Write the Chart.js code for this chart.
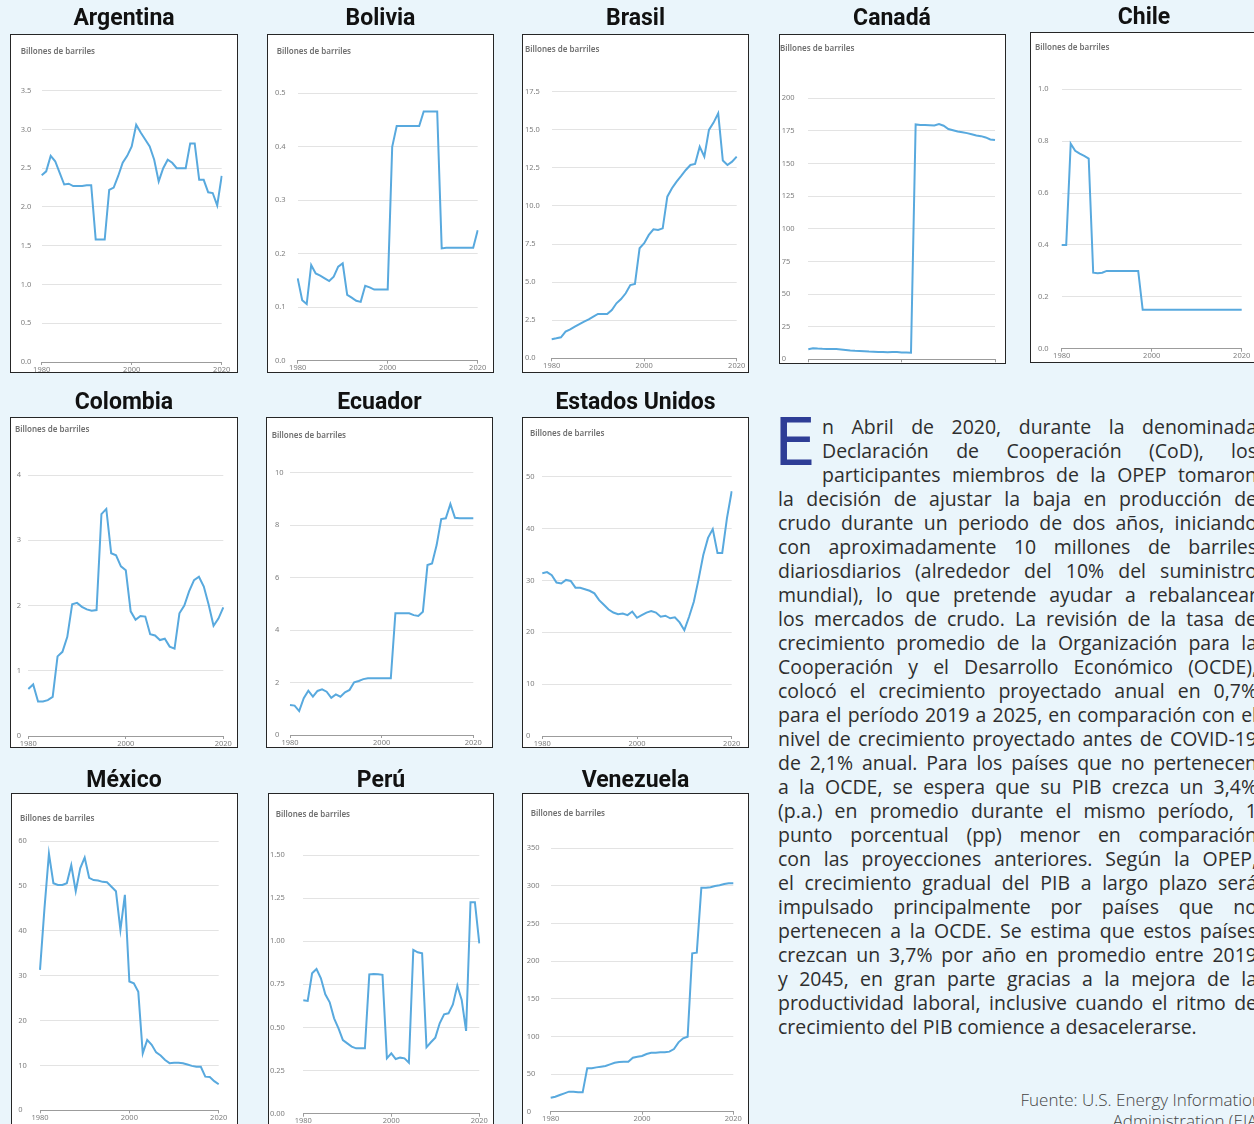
<!DOCTYPE html>
<html><head><meta charset="utf-8">
<script src="https://cdn.jsdelivr.net/npm/chart.js@4.4.0/dist/chart.umd.min.js"></script>
<style>
html,body{margin:0;padding:0;}
body{width:1254px;height:1124px;overflow:hidden;background:#EAF5FB;position:relative;font-family:"Noto Sans",sans-serif;}
.title{position:absolute;font-family:Roboto,"Noto Sans",sans-serif;font-weight:700;font-size:23px;line-height:24px;color:#111;text-align:center;white-space:nowrap;}
.panel{position:absolute;background:#fff;overflow:hidden;}
.panel canvas{position:absolute;left:0;top:0;}
.frame{position:absolute;border:1.5px solid #262626;box-sizing:border-box;pointer-events:none;}
.unit{position:absolute;font-size:8px;line-height:10px;color:#6f6f6f;white-space:nowrap;font-weight:600;}
.line{position:absolute;white-space:nowrap;color:#2e2e2e;font-family:"Open Sans",sans-serif;line-height:24px;}
.drop{position:absolute;font-family:"DejaVu Sans",sans-serif;color:#2E3D96;font-size:66px;line-height:66px;}
.src{position:absolute;left:912px;width:350px;text-align:right;top:1089px;font-family:"Open Sans",sans-serif;font-weight:300;font-size:17px;line-height:21px;color:#444;}
</style></head>
<body>
<script>
// ---- DATA ----
const years = ['1980','1981','1982','1983','1984','1985','1986','1987','1988','1989',
  '1990','1991','1992','1993','1994','1995','1996','1997','1998','1999',
  '2000','2001','2002','2003','2004','2005','2006','2007','2008','2009',
  '2010','2011','2012','2013','2014','2015','2016','2017','2018','2019','2020'];
const xTickLabels = ['1980','2000','2020'];
const unitLabel = 'Billones de barriles';

const argentina = [2.41,2.46,2.66,2.59,2.44,2.29,2.30,2.27,2.27,2.27,2.28,2.28,1.58,1.58,1.58,2.22,2.25,2.40,2.57,2.66,2.78,3.06,2.96,2.87,2.78,2.61,2.33,2.50,2.61,2.57,2.50,2.50,2.50,2.82,2.82,2.35,2.35,2.19,2.18,2.02,2.40];
const bolivia = [0.154,0.113,0.106,0.179,0.163,0.159,0.154,0.149,0.157,0.176,0.182,0.123,0.118,0.112,0.110,0.140,0.137,0.133,0.133,0.133,0.133,0.400,0.439,0.439,0.439,0.439,0.439,0.439,0.466,0.466,0.466,0.466,0.210,0.211,0.211,0.211,0.211,0.211,0.211,0.211,0.244];
const brasil = [1.25,1.31,1.38,1.75,1.90,2.08,2.25,2.41,2.56,2.74,2.91,2.91,2.91,3.17,3.61,3.89,4.27,4.81,4.88,7.22,7.55,8.10,8.47,8.42,8.53,10.61,11.16,11.60,11.97,12.36,12.69,12.76,13.89,13.24,14.99,15.47,16.08,12.98,12.69,12.91,13.24];
const canada = [7.7,8.5,8.2,8.0,7.9,7.8,7.8,7.6,7.2,6.8,6.5,6.3,6.1,5.9,5.8,5.6,5.5,5.4,5.5,5.5,5.3,5.2,5.0,180.0,179.5,179.5,179.4,179.2,180.2,179.0,176.5,175.5,174.5,174.0,173.3,172.5,171.5,171.0,170.0,168.5,168.0];
const chile = [0.40,0.40,0.79,0.763,0.752,0.743,0.733,0.293,0.291,0.293,0.30,0.30,0.30,0.30,0.30,0.30,0.30,0.30,0.15,0.15,0.15,0.15,0.15,0.15,0.15,0.15,0.15,0.15,0.15,0.15,0.15,0.15,0.15,0.15,0.15,0.15,0.15,0.15,0.15,0.15,0.15];
const colombia = [0.72,0.79,0.53,0.53,0.55,0.60,1.22,1.29,1.52,2.02,2.04,1.98,1.94,1.92,1.93,3.40,3.48,2.80,2.77,2.60,2.54,1.91,1.78,1.84,1.83,1.56,1.54,1.47,1.49,1.37,1.34,1.88,2.00,2.22,2.39,2.44,2.29,2.01,1.69,1.80,1.97];
const ecuador = [1.14,1.12,0.91,1.40,1.69,1.46,1.68,1.74,1.65,1.42,1.55,1.46,1.63,1.72,2.01,2.06,2.13,2.16,2.16,2.16,2.16,2.16,2.16,4.64,4.64,4.64,4.64,4.57,4.54,4.70,6.48,6.54,7.24,8.23,8.26,8.81,8.28,8.26,8.26,8.26,8.26];
const estadosUnidos = [31.4,31.6,31.0,29.6,29.4,30.1,29.9,28.6,28.6,28.3,28.0,27.5,26.2,25.3,24.4,23.8,23.5,23.6,23.3,24.0,22.8,23.3,23.8,24.1,23.8,23.0,23.2,22.7,22.9,21.9,20.4,23.0,25.9,30.2,34.9,38.2,39.9,35.3,35.3,42.0,47.2];
const mexico = [31.3,45.0,57.2,50.6,50.2,50.2,50.6,54.6,48.8,53.9,56.3,51.8,51.3,51.2,50.9,50.8,49.8,48.8,40.2,48.0,28.7,28.3,26.4,12.7,15.7,14.6,12.9,12.2,11.2,10.5,10.6,10.6,10.5,10.2,9.9,9.7,9.7,7.5,7.4,6.5,5.8];
const peru = [0.658,0.654,0.814,0.839,0.785,0.692,0.646,0.553,0.495,0.427,0.408,0.389,0.379,0.379,0.379,0.808,0.810,0.808,0.805,0.321,0.350,0.317,0.325,0.321,0.296,0.950,0.936,0.930,0.385,0.414,0.441,0.524,0.576,0.582,0.634,0.743,0.660,0.480,1.226,1.226,0.988];
const venezuela = [18.6,19.9,22.2,24.4,26.6,26.6,25.7,25.7,57.6,57.6,58.9,59.8,60.7,62.9,65.1,66.0,66.5,66.5,71.8,73.1,74.0,76.7,78.4,78.4,78.9,78.9,79.8,83.3,92.2,97.5,99.7,210.5,211.3,297.7,297.7,298.2,300.0,301.0,302.6,303.5,303.5];

// y axis tick specs: [max, step, decimals]
const yTicks = {
  'Argentina':[3.5,0.5,1], 'Bolivia':[0.5,0.1,1], 'Brasil':[17.5,2.5,1], 'Canadá':[200,25,0],
  'Chile':[1.0,0.2,1], 'Colombia':[4,1,0], 'Ecuador':[10,2,0], 'Estados Unidos':[50,10,0],
  'México':[60,10,0], 'Perú':[1.5,0.25,2], 'Venezuela':[350,50,0]
};
const seriesByCountry = {
  'Argentina':argentina, 'Bolivia':bolivia, 'Brasil':brasil, 'Canadá':canada, 'Chile':chile,
  'Colombia':colombia, 'Ecuador':ecuador, 'Estados Unidos':estadosUnidos,
  'México':mexico, 'Perú':peru, 'Venezuela':venezuela
};

const bodyLines = [
 'n Abril de 2020, durante la denominada',
 'Declaración de Cooperación (CoD), los',
 'participantes miembros de la OPEP tomaron',
 'la decisión de ajustar la baja en producción de',
 'crudo durante un periodo de dos años, iniciando',
 'con aproximadamente 10 millones de barriles',
 'diariosdiarios (alrededor del 10% del suministro',
 'mundial), lo que pretende ayudar a rebalancear',
 'los mercados de crudo. La revisión de la tasa de',
 'crecimiento promedio de la Organización para la',
 'Cooperación y el Desarrollo Económico (OCDE),',
 'colocó el crecimiento proyectado anual en 0,7%',
 'para el período 2019 a 2025, en comparación con el',
 'nivel de crecimiento proyectado antes de COVID-19',
 'de 2,1% anual. Para los países que no pertenecen',
 'a la OCDE, se espera que su PIB crezca un 3,4%',
 '(p.a.) en promedio durante el mismo período, 1',
 'punto porcentual (pp) menor en comparación',
 'con las proyecciones anteriores. Según la OPEP,',
 'el crecimiento gradual del PIB a largo plazo será',
 'impulsado principalmente por países que no',
 'pertenecen a la OCDE. Se estima que estos países',
 'crezcan un 3,7% por año en promedio entre 2019',
 'y 2045, en gran parte gracias a la mejora de la',
 'productividad laboral, inclusive cuando el ritmo de',
 'crecimiento del PIB comience a desacelerarse.'
];
const dropCap = 'E';
const sourceLines = ['Fuente: U.S. Energy Information','Administration (EIA)'];

// ---- LAYOUT (page pixels) ----
// box:[left,top,width,height], plot:[x1980,yTop,x2020,yZero], lx: tick label x, unit:[x,yCenter], title:[centerX, top]
const layout = [
 {name:'Argentina', box:[10,34,228,339], plot:[41.7,90.7,221.7,362], lx:20.7, unit:[20.7,50.7], title:[124,6]},
 {name:'Bolivia', box:[267,34,227,339], plot:[297.7,93.3,477.7,360.7], lx:275, unit:[276.7,50.7], title:[380.5,6]},
 {name:'Brasil', box:[522,34,227,339], plot:[551.7,91.7,736.7,358.3], lx:525, unit:[525,49.3], title:[635.5,6]},
 {name:'Canadá', box:[779,34,227,330], plot:[808.3,98.3,995,359.3], lx:781.7, unit:[780,48.3], title:[892,6]},
 {name:'Chile', box:[1030,32,228,331], plot:[1061.7,89.3,1241.7,348.7], lx:1038, unit:[1035,47.3], title:[1144,5]},
 {name:'Colombia', box:[10,417,228,331], plot:[28.3,475,223.3,736], lx:16.7, unit:[15,429], title:[124,390]},
 {name:'Ecuador', box:[266,417,227,331], plot:[290,472.7,473.3,735], lx:275, unit:[271.7,435], title:[379.5,390]},
 {name:'Estados Unidos', box:[522,417,227,331], plot:[542.3,476.7,731.7,736], lx:526, unit:[530,433.3], title:[635.5,390]},
 {name:'México', box:[11,793,227,345], plot:[40,841,218.7,1110.3], lx:18.3, unit:[20,817.7], title:[124,768]},
 {name:'Perú', box:[268,793,226,345], plot:[303.3,855,479.3,1113.7], lx:270, unit:[275.7,814.3], title:[381,768]},
 {name:'Venezuela', box:[522,793,227,345], plot:[550.7,848.3,733.3,1111.7], lx:526.7, unit:[530.7,813.3], title:[635.5,768]}
];

const LINE_COLOR = '#58A9DE';
const GRID_COLOR = '#e3e3e3';
const AXIS_COLOR = '#9c9c9c';
const TICK_COLOR = '#7e7e7e';

function el(tag, cls, css, text){
  const d=document.createElement(tag); if(cls) d.className=cls;
  Object.assign(d.style, css||{}); if(text!=null) d.textContent=text;
  document.body.appendChild(d); return d;
}

layout.forEach(p=>{
  const [L,T,W,H]=p.box; const [x0,yTop,x1,y0]=p.plot;
  const [ymax,step,dec]=yTicks[p.name];
  const series=seriesByCountry[p.name];
  const wrap=el('div','panel',{left:L+'px',top:T+'px',width:W+'px',height:H+'px'});
  const cv=document.createElement('canvas'); cv.width=W; cv.height=H; cv.style.width=W+'px'; cv.style.height=H+'px';
  wrap.appendChild(cv);
  el('div','frame',{left:L+'px',top:T+'px',width:W+'px',height:H+'px'});
  el('div','title',{left:(p.title[0]-120)+'px',width:'240px',top:p.title[1]+'px'},p.name);
  el('div','unit',{left:p.unit[0]+'px',top:(p.unit[1]-5)+'px'},unitLabel);
  new Chart(cv,{
    type:'line',
    data:{labels:years,datasets:[{data:series,borderColor:LINE_COLOR,borderWidth:2,pointRadius:0,tension:0,fill:false}]},
    options:{
      responsive:false,animation:false,events:[],
      layout:{padding:{left:p.lx-L,top:yTop-T,right:(L+W)-x1,bottom:0}},
      plugins:{legend:{display:false},tooltip:{enabled:false},title:{display:false}},
      scales:{
        x:{type:'category',offset:false,
          grid:{display:true,drawOnChartArea:false,drawTicks:true,tickLength:3,tickColor:AXIS_COLOR,lineWidth:1},
          border:{display:true,color:AXIS_COLOR,width:1},
          ticks:{autoSkip:false,maxRotation:0,minRotation:0,padding:0,font:{family:'Noto Sans',size:7.5},color:TICK_COLOR},
          afterBuildTicks:s=>{s.ticks=s.ticks.filter(t=>xTickLabels.includes(years[t.value]));},
          afterFit:s=>{s.height=(T+H)-y0;}
        },
        y:{min:0,max:ymax,
          ticks:{stepSize:step,padding:0,crossAlign:'far',font:{family:'Noto Sans',size:7.5},color:TICK_COLOR,
            callback:v=>Number(v).toFixed(dec)},
          grid:{color:GRID_COLOR,lineWidth:1,drawTicks:false},
          border:{display:false},
          afterFit:s=>{s.width=x0-p.lx;}
        }
      }
    }
  });
});

// ---- Text block ----
const mctx=document.createElement('canvas').getContext('2d');
const fam='"Open Sans", sans-serif';
mctx.font='400 17px '+fam;
const fs=17*419/mctx.measureText(bodyLines[bodyLines.length-1]).width;
mctx.font='400 '+fs+'px '+fam;
const RIGHT=1257;
bodyLines.forEach((t,i)=>{
  const left=i<3?822:778;
  const d=el('div','line',{left:left+'px',top:(415+24*i)+'px',fontSize:fs+'px'},t);
  if(i<bodyLines.length-1){
    const nat=mctx.measureText(t).width;
    const n=(t.match(/ /g)||[]).length;
    if(n>0) d.style.wordSpacing=((RIGHT-left-nat)/n)+'px';
  }
});
el('div','drop',{left:'774px',top:'410px'},dropCap);
const src=el('div','src',{});
src.innerHTML=sourceLines.join('<br>');
</script>
</body></html>
